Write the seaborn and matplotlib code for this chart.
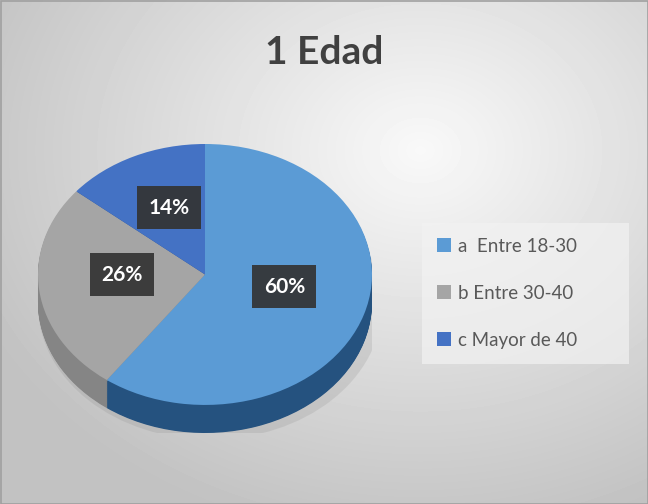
import numpy as np
import matplotlib
matplotlib.use("Agg")
import matplotlib.pyplot as plt
import seaborn as sns
from matplotlib.patches import Rectangle, Ellipse

sns.set_theme(style="white")
plt.rcParams['font.family'] = ['Lato', 'DejaVu Sans']

# data
categories = ["a  Entre 18-30", "b Entre 30-40", "c Mayor de 40"]
values = [60, 26, 14]
top_colors = ["#5B9BD5", "#A5A5A5", "#4472C4"]
side_colors = ["#25527F", "#858585", "#2F528F"]

W, H = 648, 504
fig = plt.figure(figsize=(W / 100, H / 100), dpi=100)

# background: soft radial grey gradient like the Excel chart area
bg = fig.add_axes([0, 0, 1, 1])
yy, xx = np.mgrid[0:H, 0:W]
dist = np.sqrt(((xx - 420) / 520.0) ** 2 + ((yy - 150) / 420.0) ** 2)
shade = np.clip(0.975 - 0.23 * dist, 0.76, 0.975)
bg.imshow(shade, cmap="gray", vmin=0, vmax=1, extent=(0, W, H, 0), aspect="auto")
bg.add_patch(Rectangle((0.5, 0.5), W - 1, H - 1, fill=False, edgecolor="#A0A0A0", lw=1.2))
bg.set_xlim(0, W)
bg.set_ylim(H, 0)
bg.axis("off")

# pie axes sized so the unit circle becomes the tilted ellipse
depth = 0.215
left, right, top, bottom = 38, 372, 144, 433
ax = fig.add_axes([left / W, 1 - bottom / H, (right - left) / W, (bottom - top) / H])

# soft shadow under the pie
ax.add_patch(Ellipse((0.03, -depth - 0.02), 2.06, 2.06, color="#808080", alpha=0.18, lw=0))

# side of the disc: stacked darker layers
for k in np.linspace(depth, 0.01, 40):
    ax.pie(values, colors=side_colors, startangle=90, counterclock=False,
           center=(0, -k), radius=1, wedgeprops=dict(linewidth=0), frame=True)

wedges, texts, autotexts = ax.pie(
    values, colors=top_colors, startangle=90, counterclock=False,
    radius=1, autopct="%1.0f%%", pctdistance=0.5,
    wedgeprops=dict(linewidth=0), frame=True,
    textprops=dict(color="white", fontsize=15, fontweight="bold"))
ax.set_xlim(-1, 1)
ax.set_ylim(-1 - depth, 1)
ax.set_aspect("auto")
ax.axis("off")

for t in autotexts:
    x, y = t.get_position()
    t.set_position((x, y + 0.06))
    t.set_bbox(dict(boxstyle="square,pad=0.55", facecolor="#333333",
                    edgecolor="none", alpha=0.92))

fig.text(0.5, 1 - 53 / H, "1 Edad", ha="center", va="center",
         fontsize=28, fontweight="bold", color="#404040")

leg = fig.legend(wedges, categories, loc="lower left",
                 bbox_to_anchor=(413 / W, 1 - 373 / H, (638 - 413) / W, (373 - 235) / H),
                 mode="expand", fontsize=13.5, labelcolor="#595959",
                 handlelength=0.75, handleheight=0.75, handletextpad=0.35,
                 labelspacing=1.6, borderpad=0.8, frameon=True,
                 facecolor="#F2F2F2", edgecolor="none", framealpha=0.7,
                 fancybox=False)

fig.savefig("out.png", dpi=100)
